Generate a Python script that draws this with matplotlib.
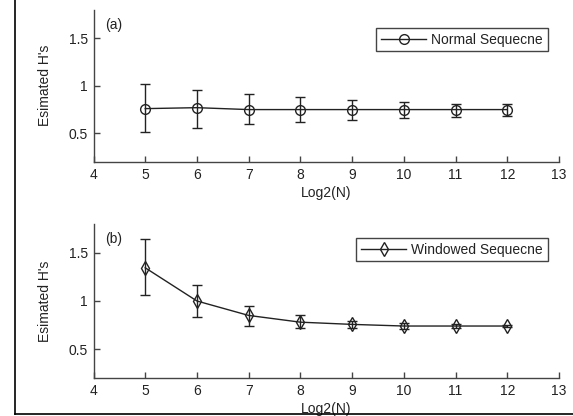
import matplotlib
matplotlib.use("Agg")
import matplotlib.pyplot as plt
from matplotlib.lines import Line2D
import numpy as np

# values
log2n = [5, 6, 7, 8, 9, 10, 11, 12]
normal_h = [0.76, 0.77, 0.75, 0.75, 0.75, 0.75, 0.75, 0.75]
normal_lo = [0.51, 0.56, 0.60, 0.62, 0.64, 0.66, 0.67, 0.68]
normal_hi = [1.02, 0.96, 0.91, 0.88, 0.85, 0.83, 0.81, 0.81]
windowed_h = [1.345, 1.0, 0.85, 0.78, 0.757, 0.74, 0.74, 0.74]
windowed_lo = [1.067, 0.837, 0.74, 0.715, 0.72, 0.71, 0.72, 0.725]
windowed_hi = [1.64, 1.164, 0.952, 0.85, 0.79, 0.77, 0.76, 0.755]

xticks = [4, 5, 6, 7, 8, 9, 10, 11, 12, 13]
yticks = [0.5, 1, 1.5]
ytick_labels = ["0.5", "1", "1.5"]

plt.rcParams['font.family'] = ['Liberation Sans', 'DejaVu Sans']
plt.rcParams['font.size'] = 10

W, H = 573, 416
fig = plt.figure(figsize=(W / 100, H / 100), dpi=100)
ink = '#222222'


def px_axes(x0, y0, x1, y1):
    return fig.add_axes([x0 / W, 1 - y1 / H, (x1 - x0) / W, (y1 - y0) / H])


def style(ax, tag, label, marker, h, lo, hi, legend_top):
    h = np.array(h)
    yerr = [h - np.array(lo), np.array(hi) - h]
    ax.errorbar(log2n, h, yerr=yerr, fmt='none', ecolor=ink,
                elinewidth=1.0, capsize=3.5, capthick=1.0)
    ax.plot(log2n, h, color=ink, lw=1.0, marker=marker, markersize=7,
            markerfacecolor='none', markeredgecolor=ink, mew=1.0, label=label)
    ax.set_xlim(4, 13)
    ax.set_ylim(0.2, 1.8)
    ax.set_xticks(xticks)
    ax.set_yticks(yticks)
    ax.set_yticklabels(ytick_labels)
    for s in ['top', 'right']:
        ax.spines[s].set_visible(False)
    for s in ['left', 'bottom']:
        ax.spines[s].set_color('#444444')
        ax.spines[s].set_linewidth(1.0)
    ax.tick_params(direction='in', length=4, width=1, colors='#444444',
                   labelcolor=ink, pad=4)
    ax.set_xlabel('Log2(N)', color=ink, labelpad=3)
    ax.set_ylabel("Esimated H's", color=ink, labelpad=12)
    ax.text(0.025, 0.9, tag, transform=ax.transAxes, color=ink,
            ha='left', va='center')
    leg = ax.legend(loc='upper right', bbox_to_anchor=(0.976, legend_top),
                    fancybox=False, framealpha=1, edgecolor='#444444',
                    handlelength=3.2, handletextpad=0.4, borderpad=0.35,
                    borderaxespad=0)
    leg.get_frame().set_linewidth(1.0)
    for t in leg.get_texts():
        t.set_color(ink)


ax1 = px_axes(93.5, 9.5, 559, 162)
style(ax1, '(a)', 'Normal Sequecne', 'o', normal_h, normal_lo, normal_hi, 0.881)

ax2 = px_axes(93.5, 224, 559, 378)
style(ax2, '(b)', 'Windowed Sequecne', 'd', windowed_h, windowed_lo, windowed_hi, 0.911)

# frame lines of the scanned figure
fig.add_artist(Line2D([14.5 / W, 14.5 / W], [1, 1 - 414 / H], color='black', lw=1.2))
fig.add_artist(Line2D([14.5 / W, 1], [1 - 414 / H, 1 - 414 / H], color='black', lw=1.2))

fig.savefig('out.png', dpi=100, facecolor='white')
